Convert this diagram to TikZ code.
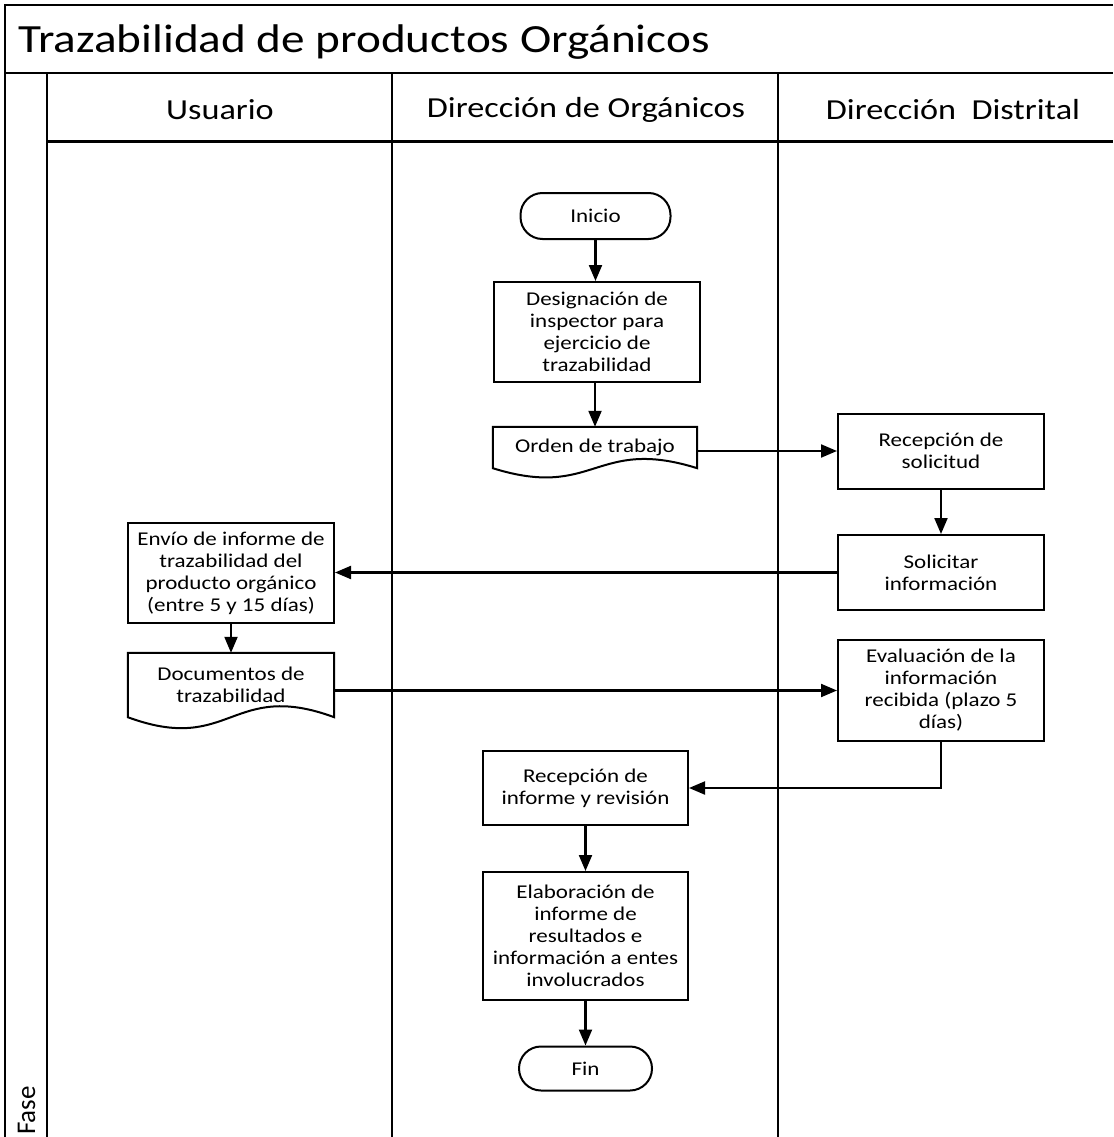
\documentclass[tikz,border=0pt]{standalone}
\usepackage{fontspec}
\setmainfont[FakeStretch=1.18]{Carlito}
\newfontfamily\plainfont{Carlito}
\usetikzlibrary{arrows.meta,calc}
\tikzset{
  lane/.style={line width=2.4pt},
  box/.style={draw, line width=2pt, align=center, inner sep=0pt,
    font=\fontsize{19.5}{22}\selectfont},
  term/.style={box, rounded corners=22pt},
  docnode/.style={align=center, inner sep=0pt, font=\fontsize{19.5}{22}\selectfont},
  flow/.style={line width=2.1pt, -{Triangle[length=16pt,width=13pt]}},
  hdr/.style={font=\fontsize{29}{34}\selectfont, inner sep=0pt}
}
\newcommand{\docshape}[2]{%
  \draw[line width=2pt] (#1.north west) -- (#1.north east) -- (#1.south east)
    .. controls ($(#1.south)+(0,-#2)$) and ($(#1.south)+(0,#2)$) .. (#1.south west) -- cycle;}
\begin{document}
\begin{tikzpicture}[x=1pt,y=-1pt]
\useasboundingbox (0,0) rectangle (1113,1137);
% frame and lanes
\draw[lane] (5,1137) -- (5,5) -- (1113,5);
\draw[lane] (5,73) -- (1113,73);
\draw[line width=3pt] (47,141) -- (1113,141);
\draw[lane] (47,73) -- (47,1137);
\draw[lane] (392,73) -- (392,1137);
\draw[lane] (778,73) -- (778,1137);
\node[anchor=west, font=\fontsize{40}{46}\selectfont, inner sep=0pt] (title) at (18,42) {Trazabilidad de productos Orgánicos};
\node[hdr] (h1) at (220,110) {Usuario};
\node[hdr] (h2) at (586,110) {Dirección de Orgánicos};
\node[hdr] (h3) at (953,110) {Dirección\ \ Distrital};
\node[rotate=90, anchor=base west, inner sep=0pt, font=\plainfont\fontsize{27}{30}\selectfont] (fase) at (35,1135) {Fase};
% nodes
\node[term, minimum width=150pt, minimum height=46pt] (inicio) at (595.5,216) {Inicio};
\node[box, minimum width=206pt, minimum height=100pt] (desig) at (597,332) {Designación de\\inspector para\\ejercicio de\\trazabilidad};
\node[docnode, minimum width=204pt, minimum height=41pt] (orden) at (595,447.5) {Orden de trabajo};
\docshape{orden}{32}
\node[box, minimum width=206pt, minimum height=75pt] (recsol) at (941,451) {Recepción de\\solicitud};
\node[box, minimum width=206pt, minimum height=75pt] (solic) at (941,572.5) {Solicitar\\información};
\node[box, minimum width=206pt, minimum height=100pt] (envio) at (231,573) {Envío de informe de\\trazabilidad del\\producto orgánico\\(entre 5 y 15 días)};
\node[docnode, minimum width=206pt, minimum height=64pt] (docs) at (231,685) {Documentos de\\trazabilidad};
\docshape{docs}{38}
\node[box, minimum width=206pt, minimum height=101pt] (eval) at (941,690.5) {Evaluación de la\\información\\recibida (plazo 5\\días)};
\node[box, minimum width=205pt, minimum height=74pt] (recinf) at (585.5,788) {Recepción de\\informe y revisión};
\node[box, minimum width=205pt, minimum height=128pt] (elab) at (585.5,936) {Elaboración de\\informe de\\resultados e\\información a entes\\involucrados};
\node[term, minimum width=133pt, minimum height=44pt] (fin) at (585.5,1068.5) {Fin};
% connectors
\draw[flow] (inicio.south) -- (inicio.south |- desig.north);
\draw[flow] (desig.south -| orden.north) -- (orden.north);
\draw[flow] (orden.east |- recsol.west) -- (recsol.west);
\draw[flow] (recsol.south) -- (solic.north);
\draw[flow] (solic.west) -- (solic.west -| envio.east);
\draw[flow] (envio.south) -- (docs.north);
\draw[flow] (docs.east |- eval.west) -- (eval.west);
\draw[flow] (eval.south) |- (recinf.east);
\draw[flow] (recinf.south) -- (elab.north);
\draw[flow] (elab.south) -- (fin.north);
\end{tikzpicture}
\end{document}
